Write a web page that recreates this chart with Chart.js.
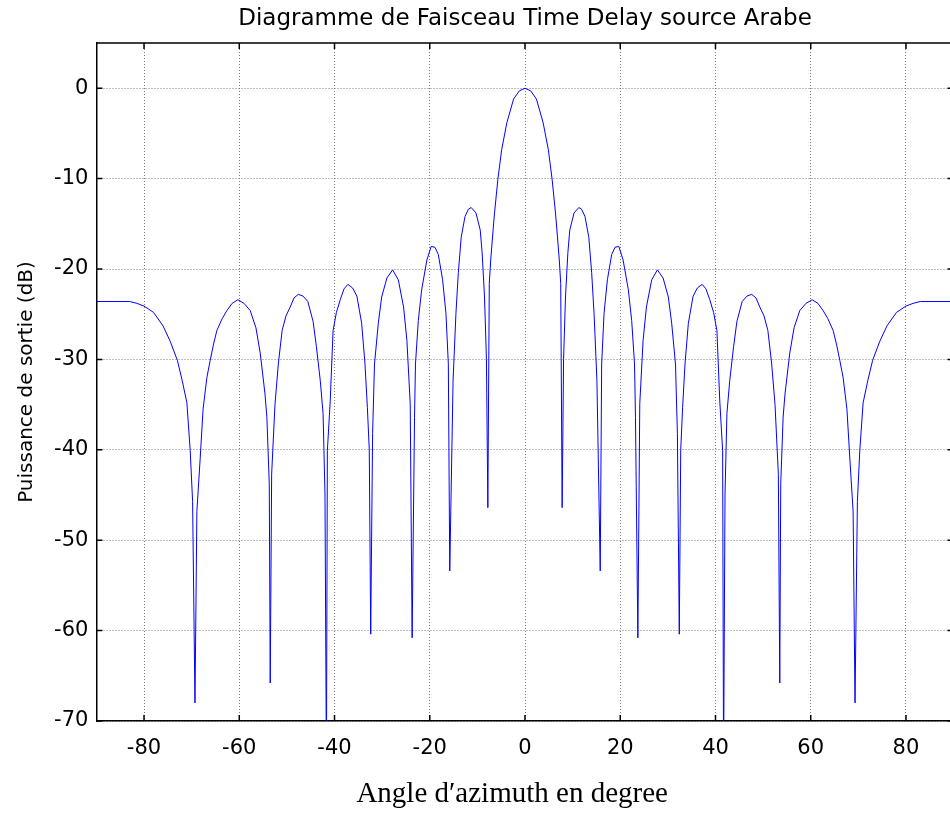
<!DOCTYPE html>
<html lang="fr">
<head>
  <meta charset="UTF-8">
  <title>Diagramme de Faisceau Time Delay source Arabe</title>
  <script src="https://cdn.jsdelivr.net/npm/chart.js"></script>
  <style>
    html, body { margin: 0; padding: 0; overflow: hidden; background: #fff; }
    #wrap { width: 960px; height: 814px; }
  </style>
</head>
<body>
  <div id="wrap"><canvas id="beamChart" width="960" height="814"></canvas></div>

  <script>
    // Angle (deg) and output power (dB)
    const angleDeg = [
      -90, -83, -81.5, -80, -78, -76, -74.5, -73, -72, -71,
      -70.3, -69.8, -69.3, -68.9, -68.2, -67.6, -66.8, -66.1, -65.4, -64.7,
      -63.6, -62.6, -61.5, -60.3, -59.0, -57.7, -56.5, -55.6, -54.6, -54.2,
      -53.7, -53.5, -53.2, -52.5, -51.8, -51.0, -50.2, -49.3, -48.5, -47.6,
      -46.6, -45.6, -44.5, -43.8, -43.0, -42.4, -42.0, -41.7, -41.5, -40.9,
      -40.3, -39.6, -38.8, -38.0, -37.2, -36.2, -35.3, -34.3, -33.6, -33.1,
      -32.7, -32.4, -32.0, -31.6, -30.8, -30.1, -29.0, -27.8, -26.6, -25.5,
      -24.8, -24.1, -23.7, -23.2, -23.0, -22.4, -21.7, -20.6, -19.7, -18.9,
      -18.2, -17.3, -16.6, -16.1, -15.8, -15.1, -14.5, -14.0, -13.4, -12.6,
      -11.9, -11.3, -10.3, -9.4, -9.0, -8.5, -8.1, -7.8, -7.5, -7.2,
      -6.7, -6.4, -5.7, -4.9, -3.8, -2.4, -1.2, 0,
      1.2, 2.4, 3.8, 4.9, 5.7, 6.4, 6.7, 7.2, 7.5, 7.8,
      8.1, 8.5, 9.0, 9.4, 10.3, 11.3, 11.9, 12.6, 13.4, 14.0,
      14.5, 15.1, 15.8, 16.1, 16.6, 17.3, 18.2, 18.9, 19.7, 20.6,
      21.7, 22.4, 23.0, 23.2, 23.7, 24.1, 24.8, 25.5, 26.6, 27.8,
      29.0, 30.1, 30.8, 31.6, 32.0, 32.4, 32.7, 33.1, 33.6, 34.3,
      35.3, 36.2, 37.2, 38.0, 38.8, 39.6, 40.3, 40.9, 41.5, 41.7,
      42.0, 42.4, 43.0, 43.8, 44.5, 45.6, 46.6, 47.6, 48.5, 49.3,
      50.2, 51.0, 51.8, 52.5, 53.2, 53.5, 53.7, 54.2, 54.6, 55.6,
      56.5, 57.7, 59.0, 60.3, 61.5, 62.6, 63.6, 64.7, 65.4, 66.1,
      66.8, 67.6, 68.2, 68.9, 69.3, 69.8, 70.3, 71, 72, 73,
      74.5, 76, 78, 80, 81.5, 83, 90
    ];
    const powerDb = [
      -23.6, -23.6, -23.8, -24.1, -24.8, -26.3, -28.0, -30.1, -32.3, -34.8,
      -40.1, -45.7, -68.0, -46.8, -40.9, -35.5, -32.0, -30.1, -28.3, -26.8,
      -25.5, -24.6, -23.8, -23.4, -23.8, -24.6, -26.5, -29.3, -33.8, -36.4,
      -43.8, -65.8, -42.7, -35.0, -30.5, -26.8, -25.2, -24.2, -23.2, -22.8,
      -23.0, -23.6, -25.8, -28.6, -32.3, -36.0, -45.0, -75.0, -40.1, -34.6,
      -26.8, -24.8, -23.4, -22.2, -21.7, -22.1, -23.0, -26.0, -30.5, -35.3,
      -40.0, -60.4, -38.2, -30.5, -26.0, -23.1, -21.0, -20.1, -21.2, -24.2,
      -27.9, -34.9, -60.8, -36.4, -30.5, -25.7, -22.3, -19.0, -17.5, -17.6,
      -18.4, -21.2, -24.9, -30.5, -53.4, -32.3, -24.9, -20.4, -16.5, -14.2,
      -13.4, -13.2, -13.8, -15.7, -18.2, -23.1, -30.0, -46.4, -21.6, -19.0,
      -15.7, -13.8, -10.1, -6.8, -3.8, -1.2, -0.3, 0,
      -0.3, -1.2, -3.8, -6.8, -10.1, -13.8, -15.7, -19.0, -21.6, -46.4,
      -30.0, -23.1, -18.2, -15.7, -13.8, -13.2, -13.4, -14.2, -16.5, -20.4,
      -24.9, -32.3, -53.4, -30.5, -24.9, -21.2, -18.4, -17.6, -17.5, -19.0,
      -22.3, -25.7, -30.5, -36.4, -60.8, -34.9, -27.9, -24.2, -21.2, -20.1,
      -21.0, -23.1, -26.0, -30.5, -38.2, -60.4, -40.0, -35.3, -30.5, -26.0,
      -23.0, -22.1, -21.7, -22.2, -23.4, -24.8, -26.8, -34.6, -40.1, -75.0,
      -45.0, -36.0, -32.3, -28.6, -25.8, -23.6, -23.0, -22.8, -23.2, -24.2,
      -25.2, -26.8, -30.5, -35.0, -42.7, -65.8, -43.8, -36.4, -33.8, -29.3,
      -26.5, -24.6, -23.8, -23.4, -23.8, -24.6, -25.5, -26.8, -28.3, -30.1,
      -32.0, -35.5, -40.9, -46.8, -68.0, -45.7, -40.1, -34.8, -32.3, -30.1,
      -28.0, -26.3, -24.8, -24.1, -23.8, -23.6, -23.6
    ];
    const xTicks = [-80, -60, -40, -20, 0, 20, 40, 60, 80];
    const yTicks = [-70, -60, -50, -40, -30, -20, -10, 0];
    const xLabel = 'Angle d\u2032azimuth en degree';

    const points = angleDeg.map((a, i) => ({ x: a, y: powerDb[i] }));

    // matlab style box: top edge, inward ticks, x label a bit left of centre
    const boxTicks = {
      id: 'boxTicks',
      afterDraw(chart) {
        const { ctx, chartArea: a, scales } = chart;
        const len = 6;
        ctx.save();
        ctx.strokeStyle = '#000';
        ctx.lineWidth = 1.5;
        ctx.beginPath();
        ctx.moveTo(a.left, a.top);
        ctx.lineTo(a.right, a.top);
        ctx.lineTo(a.right, a.bottom);
        xTicks.forEach(v => {
          const px = scales.x.getPixelForValue(v);
          ctx.moveTo(px, a.bottom); ctx.lineTo(px, a.bottom - len);
          ctx.moveTo(px, a.top); ctx.lineTo(px, a.top + len);
        });
        yTicks.forEach(v => {
          const py = scales.y.getPixelForValue(v);
          ctx.moveTo(a.left, py); ctx.lineTo(a.left + len, py);
          ctx.moveTo(a.right, py); ctx.lineTo(a.right - len, py);
        });
        ctx.stroke();

        ctx.fillStyle = '#000';
        ctx.font = "29px 'Liberation Serif', 'Times New Roman', serif";
        ctx.textAlign = 'center';
        ctx.textBaseline = 'middle';
        ctx.fillText(xLabel, scales.x.getPixelForValue(-2.7), 794);
        ctx.restore();
      }
    };

    Chart.defaults.font.family = "'DejaVu Sans', sans-serif";
    Chart.defaults.color = '#000';

    const ctx = document.getElementById('beamChart').getContext('2d');
    new Chart(ctx, {
      type: 'line',
      data: {
        datasets: [{
          data: points,
          borderColor: '#0000ff',
          borderWidth: 1,
          pointRadius: 0,
          tension: 0,
          fill: false
        }]
      },
      options: {
        responsive: false,
        animation: false,
        layout: { padding: { left: 0, right: 6.4, top: 0, bottom: 0 } },
        plugins: {
          legend: { display: false },
          tooltip: { enabled: false },
          title: {
            display: true,
            fullSize: false,
            text: 'Diagramme de Faisceau Time Delay source Arabe',
            font: { size: 23, weight: 'normal' },
            color: '#000',
            padding: { top: 5, bottom: 10.4 }
          }
        },
        scales: {
          x: {
            type: 'linear',
            min: -90,
            max: 90,
            afterBuildTicks: s => { s.ticks = xTicks.map(v => ({ value: v })); },
            afterFit: s => { s.height = 93; },
            ticks: { font: { size: 21 }, padding: 15, maxRotation: 0 },
            grid: { color: '#7a7a7a', drawTicks: false },
            border: { color: '#000', width: 1.5, dash: [1, 2] }
          },
          y: {
            type: 'linear',
            min: -70,
            max: 5,
            afterBuildTicks: s => { s.ticks = yTicks.map(v => ({ value: v })); },
            afterFit: s => { s.width = 96.4; },
            ticks: { font: { size: 21 }, padding: 8 },
            grid: { color: '#7a7a7a', drawTicks: false },
            border: { color: '#000', width: 1.5, dash: [1, 2] },
            title: {
              display: true,
              text: 'Puissance de sortie (dB)',
              font: { size: 20 },
              padding: { top: 15, bottom: 0 }
            }
          }
        }
      },
      plugins: [boxTicks]
    });
  </script>
</body>
</html>
